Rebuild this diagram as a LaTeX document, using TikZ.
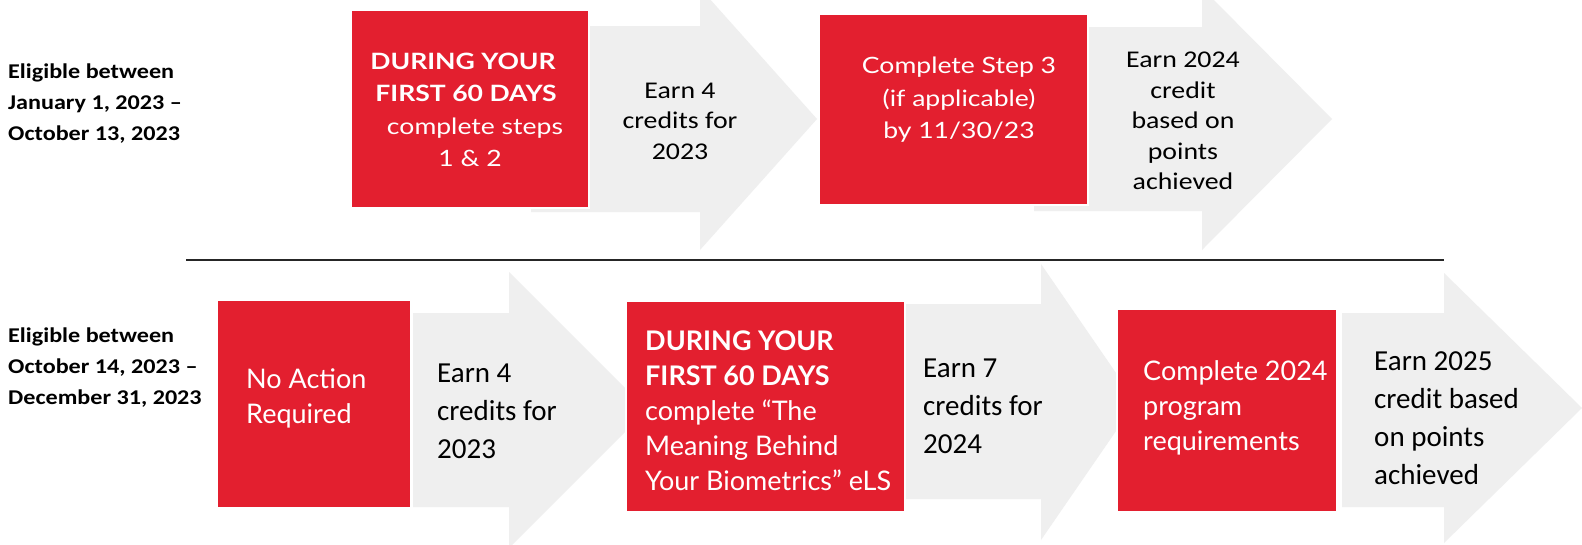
\documentclass[tikz,border=0pt]{standalone}
\usepackage{fontspec}
\setmainfont{Carlito}
\newfontfamily\carS[FakeStretch=1.16]{Carlito}
\newfontfamily\carB[FakeStretch=1.15]{Carlito}
\newfontfamily\lat{Lato}
\newfontfamily\latS[FakeStretch=1.18]{Lato}
\definecolor{boxred}{HTML}{E31F2F}
\definecolor{arrgrey}{HTML}{EFEFEF}
\definecolor{rule}{HTML}{262626}
\tikzset{
  arrowshape/.style={fill=arrgrey, draw=none},
  redbox/.style={fill=boxred, draw=white, line width=1.5pt},
  lbl/.style={anchor=west, align=left, inner sep=0pt, font={\carB\bfseries\fontsize{21}{31}\selectfont}},
  toparr/.style={align=center, inner sep=0pt, text=black, font={\carS\fontsize{24}{30.5}\selectfont}},
  topred/.style={align=center, inner sep=0pt, text=white, font={\latS\fontsize{22.5}{32.5}\selectfont}},
  botarr/.style={anchor=west, align=left, inner sep=0pt, text=black, font={\fontsize{29}{38}\selectfont}},
  botred/.style={anchor=west, align=left, inner sep=0pt, text=white, font={\lat\fontsize{27}{35}\selectfont}},
}
\begin{document}
\begin{tikzpicture}[x=1pt,y=-1pt]
\useasboundingbox (0,0) rectangle (1582,544);
\fill[white] (0,0) rectangle (1582,544);
\clip (0,0) rectangle (1582,544);
% ---- top row arrows
\fill[arrowshape] (531,26) -- (700,26) -- (700,-12) -- (817,119) -- (700,250) -- (700,212) -- (531,212) -- cycle;
\fill[arrowshape] (1034,27) -- (1202,27) -- (1202,-12) -- (1332,119) -- (1202,250) -- (1202,211) -- (1034,211) -- cycle;
% ---- bottom row arrows
\fill[arrowshape] (413,313) -- (509,313) -- (509,272) -- (647,410) -- (509,548) -- (509,507) -- (413,507) -- cycle;
\fill[arrowshape] (905,304) -- (1041,304) -- (1041,264) -- (1136,402) -- (1041,540) -- (1041,499) -- (905,499) -- cycle;
\fill[arrowshape] (1342,313) -- (1444,313) -- (1444,273) -- (1582,408) -- (1444,543) -- (1444,507) -- (1342,507) -- cycle;
% ---- red boxes
\draw[redbox] (351,10) rectangle (589,208);
\draw[redbox] (819,14) rectangle (1088,205);
\draw[redbox] (217,300) rectangle (411,508);
\draw[redbox] (626,301) rectangle (905,512);
\draw[redbox] (1117,309) rectangle (1337,512);
% ---- divider
\coordinate (d1) at (186,260);
\coordinate (d2) at (1444,260);
\draw[rule, line width=1.3pt] (d1) -- (d2);
% ---- left labels
\node[lbl] (lab1) at (8,104) {Eligible between\\January 1, 2023 –\\October 13, 2023};
\node[lbl] (lab2) at (8,368) {Eligible between\\October 14, 2023 –\\December 31, 2023};
% ---- top row texts
\node[topred] (t1) at (466,110) {{\bfseries DURING YOUR}\hspace*{6pt}\\{\bfseries FIRST 60 DAYS}\hspace*{6pt}\\\hspace*{18pt}complete steps\\\hspace*{8pt}1 \& 2};
\node[toparr] (t2) at (680,121) {Earn 4\\credits for\\2023};
\node[topred] (t3) at (959,100) {Complete Step 3\\(if applicable)\\by 11/30/23};
\node[toparr] (t4) at (1183,121) {Earn 2024\\credit\\based on\\points\\achieved};
% ---- bottom row texts
\node[botred] (b1) at (246,398) {No Action\\Required};
\node[botarr] (b2) at (437,411) {Earn 4\\credits for\\2023};
\node[botred] (b3) at (645,411) {{\bfseries DURING YOUR}\\{\bfseries FIRST 60 DAYS}\\complete “The\\Meaning Behind\\Your Biometrics” eLS};
\node[botarr] (b4) at (923,406) {Earn 7\\credits for\\2024};
\node[botred] (b5) at (1143,408) {Complete 2024\\program\\requirements};
\node[botarr] (b6) at (1374,418) {Earn 2025\\credit based\\on points\\achieved};
\end{tikzpicture}
\end{document}
